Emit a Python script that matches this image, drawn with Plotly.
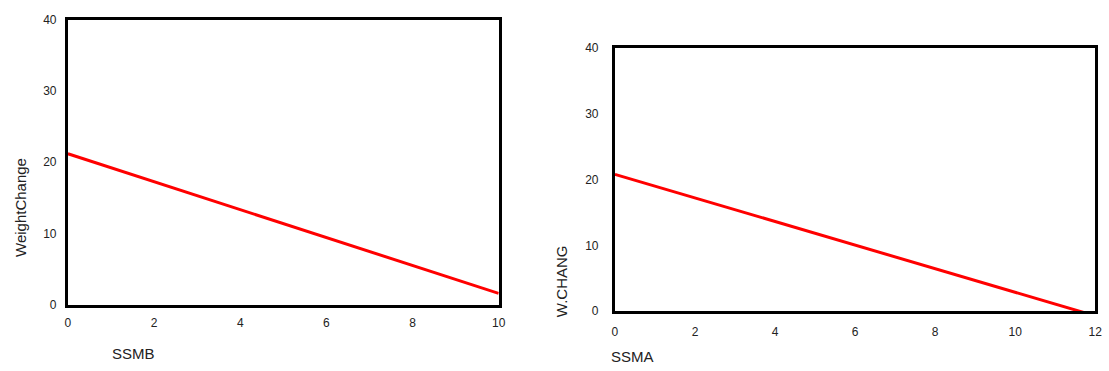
import plotly.graph_objects as go

W, H = 1109, 371

# Left chart data (SSMB vs Weight Change)
ssmb_x = [0, 10]
weight_change = [21.2, 1.6]
left_xticks = [0, 2, 4, 6, 8, 10]
left_yticks = [0, 10, 20, 30, 40]

# Right chart data (SSMA vs W.CHANG)
ssma_x = [0, 12]
w_chang = [20.8, -0.7]
right_xticks = [0, 2, 4, 6, 8, 10, 12]
right_yticks = [0, 10, 20, 30, 40]

FONT = "Liberation Sans, Arial, sans-serif"
RED = "#ff0000"
TXT = "#222222"

fig = go.Figure()
fig.add_trace(go.Scatter(x=ssmb_x, y=weight_change, mode="lines",
                         line=dict(color=RED, width=3), xaxis="x", yaxis="y",
                         showlegend=False, hoverinfo="skip"))
fig.add_trace(go.Scatter(x=ssma_x, y=w_chang, mode="lines",
                         line=dict(color=RED, width=3), xaxis="x2", yaxis="y2",
                         showlegend=False, hoverinfo="skip"))

def px_x(a, b):
    return [a / W, b / W]

def px_y(top, bottom):
    return [(H - bottom) / H, (H - top) / H]

axis_common = dict(showgrid=False, zeroline=False, showline=True, mirror=True,
                   linecolor="black", linewidth=3, ticks="",
                   tickfont=dict(family=FONT, size=12, color=TXT))

fig.update_layout(
    width=W, height=H,
    margin=dict(l=0, r=0, t=0, b=0),
    paper_bgcolor="white", plot_bgcolor="white",
    xaxis=dict(domain=px_x(65.5, 500.2), range=[0, 10], tickvals=left_xticks,
               anchor="y", ticklabelstandoff=5, **axis_common),
    yaxis=dict(domain=px_y(13.2, 309.5), range=[0, 40], tickvals=left_yticks,
               anchor="x", ticklabelstandoff=6, **axis_common),
    xaxis2=dict(domain=px_x(617.5, 1102.2), range=[0, 12], tickvals=right_xticks,
                anchor="y2", ticklabelstandoff=7, **axis_common),
    yaxis2=dict(domain=px_y(42.5, 316.2), range=[0, 40], tickvals=right_yticks,
                anchor="x2", ticklabelstandoff=11, **axis_common),
    annotations=[
        dict(text="WeightChange", x=17 / W, y=(H - 208) / H, xref="paper", yref="paper",
             textangle=-90, showarrow=False, xanchor="center", yanchor="middle",
             font=dict(family=FONT, size=15, color=TXT)),
        dict(text="SSMB", x=132 / W, y=(H - 360) / H, xref="paper", yref="paper",
             showarrow=False, xanchor="center", yanchor="middle",
             font=dict(family=FONT, size=15, color=TXT)),
        dict(text="W.CHANG", x=563 / W, y=(H - 285) / H, xref="paper", yref="paper",
             textangle=-90, showarrow=False, xanchor="center", yanchor="middle",
             font=dict(family=FONT, size=15, color=TXT)),
        dict(text="SSMA", x=635 / W, y=(H - 363) / H, xref="paper", yref="paper",
             showarrow=False, xanchor="center", yanchor="middle",
             font=dict(family=FONT, size=15, color=TXT)),
    ],
)

fig.write_html("out.html",
               config={"displayModeBar": False},
               post_script="document.body.style.margin='0px';document.body.style.padding='0px';document.body.style.overflow='hidden';")
